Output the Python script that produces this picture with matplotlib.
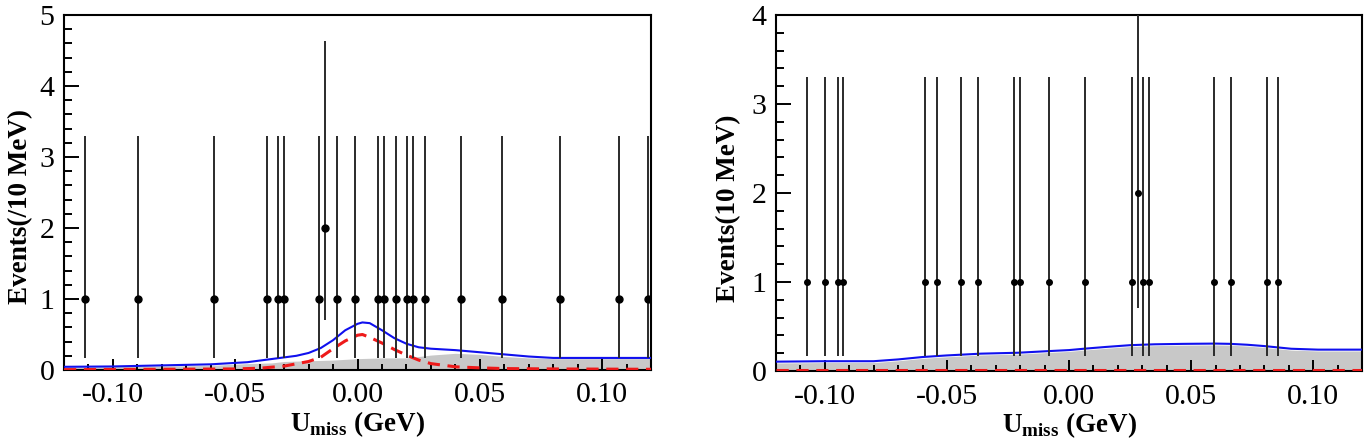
import matplotlib
matplotlib.use("Agg")
import matplotlib.pyplot as plt

plt.rcParams["font.family"] = ["Liberation Serif", "DejaVu Serif"]
plt.rcParams["mathtext.fontset"] = "custom"
plt.rcParams["mathtext.rm"] = "Liberation Serif"
plt.rcParams["mathtext.bf"] = "Liberation Serif:bold"
plt.rcParams["axes.unicode_minus"] = False

# ---- data ----
# unbinned events: positions (GeV) and counts
left_x = [-0.1115, -0.0899, -0.0586, -0.0370, -0.0323, -0.0299, -0.0156, -0.0131,
          -0.0083, -0.0012, 0.0083, 0.0108, 0.0157, 0.0204, 0.0228, 0.0276,
          0.0422, 0.0590, 0.0828, 0.1068, 0.1187]
left_n = [1, 1, 1, 1, 1, 1, 1, 2, 1, 1, 1, 1, 1, 1, 1, 1, 1, 1, 1, 1, 1]

right_x = [-0.1071, -0.0998, -0.0947, -0.0924, -0.0589, -0.0540, -0.0442, -0.0372,
           -0.0227, -0.0202, -0.0081, 0.0064, 0.0256, 0.0281, 0.0304, 0.0328,
           0.0593, 0.0665, 0.0809, 0.0857]
right_n = [1, 1, 1, 1, 1, 1, 1, 1, 1, 1, 1, 1, 1, 2, 1, 1, 1, 1, 1, 1]

# asymmetric Poisson error bars (lower, upper) by count
poisson_err = {1: (0.83, 2.30), 2: (1.29, 2.64)}

# left panel fit curves
left_tot_x = [-0.120, -0.100, -0.080, -0.060, -0.045, -0.035, -0.025, -0.020, -0.015,
              -0.010, -0.005, 0.000, 0.002, 0.005, 0.010, 0.015, 0.020, 0.025,
              0.030, 0.040, 0.050, 0.060, 0.070, 0.080, 0.090, 0.100, 0.120]
left_tot_y = [0.045, 0.050, 0.065, 0.080, 0.110, 0.155, 0.200, 0.240, 0.310,
              0.420, 0.560, 0.650, 0.670, 0.660, 0.560, 0.450, 0.370, 0.320,
              0.300, 0.280, 0.250, 0.220, 0.190, 0.170, 0.170, 0.170, 0.170]
left_sig_x = [-0.120, -0.080, -0.050, -0.040, -0.030, -0.020, -0.015, -0.010, -0.005,
              0.000, 0.002, 0.005, 0.010, 0.015, 0.020, 0.025, 0.030, 0.040,
              0.050, 0.060, 0.080, 0.120]
left_sig_y = [0.005, 0.010, 0.015, 0.025, 0.055, 0.120, 0.180, 0.300, 0.410,
              0.490, 0.500, 0.460, 0.380, 0.290, 0.210, 0.140, 0.090, 0.045,
              0.030, 0.020, 0.015, 0.010]
left_bkg_x = [-0.120, -0.080, -0.060, -0.045, -0.035, -0.030, -0.020, -0.010, 0.000,
              0.010, 0.020, 0.030, 0.040, 0.050, 0.060, 0.070, 0.080, 0.120]
left_bkg_y = [0.040, 0.055, 0.065, 0.090, 0.100, 0.120, 0.130, 0.140, 0.160,
              0.170, 0.170, 0.210, 0.235, 0.220, 0.190, 0.170, 0.160, 0.160]

# right panel fit curves
right_tot_x = [-0.120, -0.100, -0.080, -0.070, -0.060, -0.050, -0.036, -0.021, -0.008,
               0.000, 0.006, 0.015, 0.025, 0.035, 0.047, 0.060, 0.066, 0.073,
               0.080, 0.091, 0.102, 0.120]
right_tot_y = [0.105, 0.110, 0.110, 0.130, 0.157, 0.175, 0.195, 0.205, 0.224,
               0.235, 0.250, 0.270, 0.290, 0.300, 0.305, 0.308, 0.305, 0.295,
               0.280, 0.250, 0.240, 0.240]
right_sig_x = [-0.120, -0.060, 0.000, 0.060, 0.120]
right_sig_y = [0.015, 0.015, 0.015, 0.015, 0.015]
right_bkg_x = right_tot_x
right_bkg_y = [0.090, 0.095, 0.095, 0.115, 0.142, 0.160, 0.180, 0.190, 0.209,
               0.220, 0.235, 0.255, 0.275, 0.285, 0.290, 0.293, 0.290, 0.280,
               0.265, 0.235, 0.225, 0.225]

xticks = [-0.10, -0.05, 0.00, 0.05, 0.10]
xtick_labels = ["-0.10", "-0.05", "0.00", "0.05", "0.10"]

W, H = 1368, 447
fig = plt.figure(figsize=(W / 100, H / 100), dpi=100)
ax1 = fig.add_axes([64 / W, 1 - 370 / H, 587 / W, 355 / H])
ax2 = fig.add_axes([776 / W, 1 - 371 / H, 586 / W, 356 / H])


def draw_panel(ax, ex, en, tx, ty, sx, sy, bx, by, ymax, ms):
    ax.fill_between(bx, 0, by, color="#c8c8c8", lw=0, zorder=1)
    ax.plot(tx, ty, color="#1010ee", lw=1.5, zorder=3)
    ax.plot(sx, sy, color="#ee1a1a", lw=2.2, ls=(0, (4, 2.5)), zorder=3)
    lo = [poisson_err[n][0] for n in en]
    hi = [poisson_err[n][1] for n in en]
    ax.errorbar(ex, en, yerr=[lo, hi], fmt="o", color="black", ecolor="#2a2a2a",
                ms=ms, elinewidth=1.4, capsize=0, zorder=4)
    ax.set_xlim(-0.12, 0.12)
    ax.set_ylim(0, ymax)
    ax.set_xticks(xticks)
    ax.set_xticklabels(xtick_labels)
    ax.set_xticks([v / 100 for v in range(-11, 12)], minor=True)
    ax.set_yticks(range(0, ymax + 1))
    ax.set_yticks([v / 5 for v in range(0, ymax * 5 + 1)], minor=True)
    ax.tick_params(axis="both", which="both", direction="in", width=1.4,
                   labelsize=21.5, top=False, right=False)
    ax.tick_params(axis="x", which="major", length=8, pad=9)
    ax.tick_params(axis="x", which="minor", length=4.5)
    ax.tick_params(axis="y", which="major", length=11, pad=7)
    ax.tick_params(axis="y", which="minor", length=6)
    for sp in ax.spines.values():
        sp.set_linewidth(1.5)
    ax.set_xlabel(r"$\mathbf{U}_{\mathbf{miss}}$ (GeV)", fontsize=19.5, fontweight="bold")
    ax.xaxis.set_label_coords(0.5, -0.11)


draw_panel(ax1, left_x, left_n, left_tot_x, left_tot_y, left_sig_x, left_sig_y,
           left_bkg_x, left_bkg_y, 5, 5)
draw_panel(ax2, right_x, right_n, right_tot_x, right_tot_y, right_sig_x, right_sig_y,
           right_bkg_x, right_bkg_y, 4, 4)

fig.text(21 / W, 1 - 207 / H, "Events(/10 MeV)", rotation=90, ha="center", va="center",
         fontsize=19.5, fontweight="bold")
fig.text(729 / W, 1 - 208 / H, "Events(10 MeV)", rotation=90, ha="center", va="center",
         fontsize=19.5, fontweight="bold")

fig.savefig("out.png", dpi=100)
